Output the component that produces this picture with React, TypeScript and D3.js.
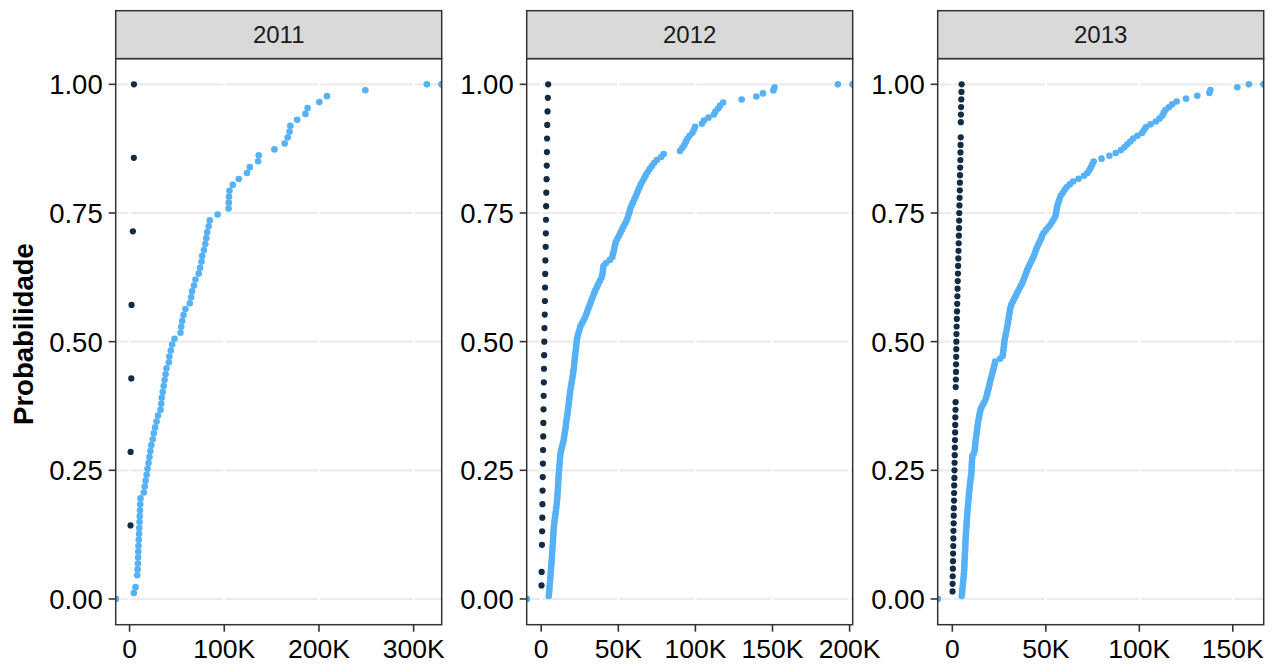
import React, { useEffect, useRef } from "react";
import * as d3 from "d3";

// valores em milhares (K)
const years = ["2011", "2012", "2013"];

const dark2011 = [1.0, 1.1, 1.8, 2.1, 3.5, 4.5, 4.6];
const light2011 = [
  4.5, 6.3, 8.1, 8.1, 8.5, 8.8, 9.0, 9.2, 9.4, 9.7,
  10.0, 10.2, 10.5, 10.8, 11.0, 11.3, 11.6, 15.0, 16.0, 17.0,
  18.0, 19.0, 20.0, 21.0, 22.0, 23.0, 24.5, 25.6, 27.0, 28.5,
  30.0, 32.7, 33.5, 34.0, 35.0, 36.0, 37.0, 38.0, 39.0, 41.5,
  42.0, 43.5, 45.0, 47.5, 53.8, 54.5, 55.6, 57.0, 59.0, 63.6,
  65.0, 66.0, 68.0, 69.6, 73.0, 74.5, 76.0, 76.7, 78.5, 80.0,
  81.0, 82.0, 83.5, 84.7, 93.0, 104.6, 104.8, 105.0, 105.5, 109.0,
  115.3, 124.0, 127.0, 135.8, 136.4, 153.0, 163.8, 167.0, 169.0, 169.8,
  177.0, 185.7, 188.0, 200.4, 208.5, 249.0, 314.0,
];

const dark2012 = [
  0.2, 0.3, 0.5, 0.5, 0.6, 0.7, 0.8, 0.9, 1.0, 1.1,
  1.2, 1.3, 1.4, 1.5, 1.6, 1.7, 1.8, 1.9, 2.0, 2.1,
  2.3, 2.4, 2.5, 2.6, 2.7, 2.9, 3.0, 3.1, 3.2, 3.3,
  3.5, 3.6, 3.7, 3.8, 3.9, 4.1, 4.3, 4.5,
];
const light2012 = [
  4.9, 5.1, 5.3, 5.4, 5.6, 5.8, 5.9, 6.1, 6.2, 6.4,
  6.5, 6.7, 6.8, 6.9, 7.1, 7.2, 7.3, 7.5, 7.6, 7.7,
  7.8, 8.0, 8.1, 8.2, 8.5, 8.7, 9.0, 9.2, 9.5, 9.7,
  10.0, 10.2, 10.4, 10.5, 10.6, 10.8, 10.9, 11.0, 11.1, 11.2,
  11.3, 11.5, 11.6, 11.8, 12.0, 12.1, 12.3, 12.5, 12.9, 13.4,
  13.9, 14.4, 14.7, 15.0, 15.3, 15.6, 15.9, 16.1, 16.4, 16.7,
  17.0, 17.2, 17.5, 17.7, 18.0, 18.2, 18.4, 18.7, 18.9, 19.3,
  19.6, 19.9, 20.2, 20.5, 20.8, 21.1, 21.3, 21.5, 21.7, 21.9,
  22.1, 22.4, 22.6, 22.8, 23.0, 23.3, 23.7, 24.3, 24.9, 25.4,
  26.4, 27.4, 28.4, 29.2, 29.9, 30.6, 31.4, 32.1, 32.8, 33.6,
  34.3, 35.1, 36.1, 37.0, 38.0, 39.0, 39.6, 39.9, 40.1, 40.4,
  42.0, 44.5, 46.1, 46.6, 47.1, 47.5, 47.9, 48.4, 49.4, 50.4,
  51.4, 52.4, 53.4, 54.4, 55.4, 56.1, 56.7, 57.3, 57.8, 58.6,
  59.5, 60.4, 61.3, 62.1, 62.9, 63.8, 64.6, 65.7, 66.8, 67.8,
  69.1, 70.3, 71.8, 73.2, 75.0, 77.8, 79.4, 90.0, 91.5, 92.8,
  93.8, 94.8, 96.2, 98.1, 99.0, 99.8, 104.2, 105.5, 108.5, 112.0,
  113.0, 114.8, 116.0, 118.0, 130.0, 139.5, 143.8, 150.6, 151.3, 192.4,
];

const dark2013 = [
  0.1, 0.15, 0.2, 0.3, 0.35, 0.4, 0.5, 0.55, 0.6, 0.7,
  0.75, 0.8, 0.9, 0.95, 1.0, 1.1, 1.15, 1.2, 1.3, 1.35,
  1.4, 1.5, 1.55, 1.6, 1.7, 1.75, 1.8, 1.8, 1.9, 1.95,
  2.0, 2.05, 2.1, 2.15, 2.2, 2.3, 2.4, 2.5, 2.6, 2.7,
  2.8, 2.9, 3.0, 3.1, 3.2, 3.3, 3.4, 3.5, 3.6, 3.65,
  3.7, 3.8, 3.9, 4.0, 4.05, 4.1, 4.2, 4.3, 4.35, 4.4,
  4.5, 4.55, 4.55, 4.6, 4.7, 4.8, 4.9, 5.0,
];
const light2013 = [
  5.0, 5.2, 5.3, 5.5, 5.6, 5.8, 5.9, 6.1, 6.2, 6.3,
  6.4, 6.45, 6.5, 6.6, 6.7, 6.75, 6.8, 6.9, 7.0, 7.05,
  7.1, 7.2, 7.3, 7.4, 7.5, 7.6, 7.7, 7.8, 7.9, 8.0,
  8.1, 8.3, 8.4, 8.5, 8.7, 8.8, 8.9, 9.1, 9.3, 9.4,
  9.6, 9.8, 10.0, 10.2, 10.3, 10.35, 10.4, 10.5, 10.6, 10.7,
  11.5, 12.0, 12.1, 12.3, 12.4, 12.6, 12.8, 13.0, 13.2, 13.4,
  13.6, 13.8, 14.1, 14.4, 14.7, 15.0, 15.6, 16.4, 17.2, 17.9,
  18.3, 18.7, 19.1, 19.5, 19.9, 20.2, 20.6, 21.0, 21.4, 21.8,
  22.2, 22.6, 22.9, 25.5, 26.9, 27.1, 27.3, 27.5, 27.7, 27.8,
  28.1, 28.4, 28.7, 29.0, 29.3, 29.6, 29.8, 30.1, 30.3, 30.6,
  30.8, 31.1, 31.6, 32.4, 33.1, 33.9, 34.6, 35.4, 36.2, 37.0,
  37.7, 38.3, 38.9, 39.5, 40.0, 40.7, 41.4, 42.2, 42.9, 43.6,
  44.2, 44.7, 45.3, 46.0, 46.7, 47.5, 48.0, 48.8, 50.0, 51.3,
  52.5, 53.5, 54.4, 55.2, 55.5, 55.7, 56.0, 56.4, 56.9, 57.4,
  57.9, 59.0, 60.0, 61.1, 62.8, 64.6, 67.5, 70.4, 72.2, 73.3,
  74.1, 74.8, 75.6, 79.8, 84.0, 87.4, 90.2, 92.0, 93.6, 95.2,
  96.7, 99.0, 101.4, 102.5, 103.5, 106.0, 108.8, 110.8, 112.3, 113.0,
  114.0, 115.8, 117.6, 120.0, 125.0, 131.0, 137.5, 138.0, 152.4, 158.6,
];

const xTicks2011 = [0, 100, 200, 300];
const xTicks2012 = [0, 50, 100, 150, 200];
const xTicks2013 = [0, 50, 100, 150];
const yTicks = [0, 0.25, 0.5, 0.75, 1];
const yTitle = "Probabilidade";

const DARK = "#132B43";
const LIGHT = "#56B1F7";
const FONT = "'Liberation Sans', Arial, Helvetica, sans-serif";

// layout
const W = 1275;
const H = 664;
const panelLefts = [115.7, 526.7, 937.7];
const panelW = 326;
const stripTop = 10.7;
const panelTop = 58.6;
const panelBottom = 624.7;

// ecdf como no stat_ecdf: valores unicos + pontos em -Inf e Inf
const ecdf = (values: number[]) => {
  const sorted = values.slice().sort(d3.ascending);
  const n = sorted.length;
  const uniq = Array.from(new Set(sorted));
  const pts = uniq.map((v) => ({ x: v, y: d3.bisectRight(sorted, v) / n }));
  return [{ x: -Infinity, y: 0 }, ...pts, { x: Infinity, y: 1 }];
};

const fmtK = (d: number) => (d === 0 ? "0" : `${d}K`);

const App = () => {
  const svgRef = useRef<SVGSVGElement>(null);

  useEffect(() => {
    const svg = d3.select(svgRef.current);
    svg.selectAll("*").remove();

    const y = d3
      .scaleLinear()
      .domain([-0.05, 1.05])
      .range([panelBottom, panelTop]);

    const facets = [
      { year: years[0], dark: dark2011, light: light2011, ticks: xTicks2011 },
      { year: years[1], dark: dark2012, light: light2012, ticks: xTicks2012 },
      { year: years[2], dark: dark2013, light: light2013, ticks: xTicks2013 },
    ];

    const defs = svg.append("defs");

    facets.forEach((f, i) => {
      const left = panelLefts[i];
      const right = left + panelW;
      const [lo, hi] = d3.extent(f.dark.concat(f.light)) as [number, number];
      const pad = (hi - lo) * 0.05;
      const x = d3.scaleLinear().domain([lo - pad, hi + pad]).range([left, right]);
      const px = (d: { x: number }) =>
        isFinite(d.x) ? x(d.x) : d.x < 0 ? left : right;

      const g = svg.append("g");

      defs
        .append("clipPath")
        .attr("id", `clip-${i}`)
        .append("rect")
        .attr("x", left)
        .attr("y", panelTop)
        .attr("width", panelW)
        .attr("height", panelBottom - panelTop);

      // grade horizontal
      g.append("g")
        .selectAll("line")
        .data(yTicks)
        .join("line")
        .attr("x1", left)
        .attr("x2", right)
        .attr("y1", (d) => y(d))
        .attr("y2", (d) => y(d))
        .attr("stroke", "#EBEBEB")
        .attr("stroke-width", 2.2);

      // grade vertical (branca)
      g.append("g")
        .selectAll("line")
        .data(f.ticks)
        .join("line")
        .attr("x1", (d) => x(d))
        .attr("x2", (d) => x(d))
        .attr("y1", panelTop)
        .attr("y2", panelBottom)
        .attr("stroke", "#FFFFFF")
        .attr("stroke-width", 2.6);

      // pontos
      const pts = g.append("g").attr("clip-path", `url(#clip-${i})`);
      pts
        .append("g")
        .selectAll("circle")
        .data(ecdf(f.dark))
        .join("circle")
        .attr("cx", px)
        .attr("cy", (d) => y(d.y))
        .attr("r", 3.1)
        .attr("fill", DARK);
      pts
        .append("g")
        .selectAll("circle")
        .data(ecdf(f.light))
        .join("circle")
        .attr("cx", px)
        .attr("cy", (d) => y(d.y))
        .attr("r", 3.3)
        .attr("fill", LIGHT);

      // borda do painel
      g.append("rect")
        .attr("x", left)
        .attr("y", panelTop)
        .attr("width", panelW)
        .attr("height", panelBottom - panelTop)
        .attr("fill", "none")
        .attr("stroke", "#333333")
        .attr("stroke-width", 1.5);

      // faixa (strip)
      g.append("rect")
        .attr("x", left)
        .attr("y", stripTop)
        .attr("width", panelW)
        .attr("height", panelTop - stripTop)
        .attr("fill", "#D9D9D9")
        .attr("stroke", "#333333")
        .attr("stroke-width", 1.5);
      g.append("text")
        .attr("x", left + panelW / 2)
        .attr("y", (stripTop + panelTop) / 2)
        .attr("dy", "0.36em")
        .attr("text-anchor", "middle")
        .attr("font-family", FONT)
        .attr("font-size", 24)
        .attr("fill", "#1A1A1A")
        .text(f.year);

      // eixo y
      const ya = g.append("g");
      ya.selectAll("line")
        .data(yTicks)
        .join("line")
        .attr("x1", left - 7)
        .attr("x2", left)
        .attr("y1", (d) => y(d))
        .attr("y2", (d) => y(d))
        .attr("stroke", "#333333")
        .attr("stroke-width", 1.6);
      ya.selectAll("text")
        .data(yTicks)
        .join("text")
        .attr("x", left - 13)
        .attr("y", (d) => y(d))
        .attr("dy", "0.36em")
        .attr("text-anchor", "end")
        .attr("font-family", FONT)
        .attr("font-size", 27.5)
        .attr("fill", "#000000")
        .text((d) => d3.format(".2f")(d));

      // eixo x
      const xa = g.append("g");
      xa.selectAll("line")
        .data(f.ticks)
        .join("line")
        .attr("x1", (d) => x(d))
        .attr("x2", (d) => x(d))
        .attr("y1", panelBottom)
        .attr("y2", panelBottom + 7)
        .attr("stroke", "#333333")
        .attr("stroke-width", 1.6);
      xa.selectAll("text")
        .data(f.ticks)
        .join("text")
        .attr("x", (d) => x(d))
        .attr("y", 657.5)
        .attr("text-anchor", "middle")
        .attr("font-family", FONT)
        .attr("font-size", 26.5)
        .attr("fill", "#000000")
        .text(fmtK);
    });

    svg
      .append("text")
      .attr("transform", `translate(33, 334) rotate(-90)`)
      .attr("text-anchor", "middle")
      .attr("font-family", FONT)
      .attr("font-size", 27.5)
      .attr("font-weight", "bold")
      .attr("fill", "#000000")
      .text(yTitle);
  }, []);

  return (
    <svg
      ref={svgRef}
      width={W}
      height={H}
      style={{ position: "absolute", left: 0, top: 0, background: "#FFFFFF" }}
    />
  );
};

export default App;
